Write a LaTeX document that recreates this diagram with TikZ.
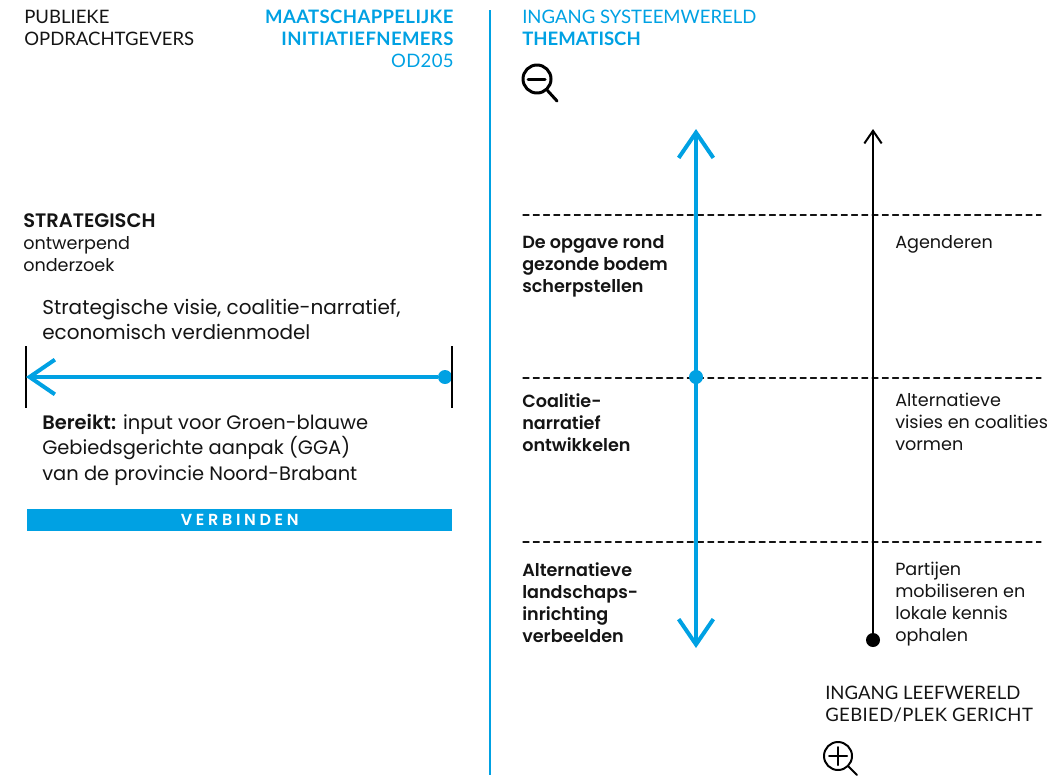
\documentclass[tikz,border=0pt]{standalone}
\usepackage{fontspec}
\setmainfont{Poppins}[BoldFont={Poppins SemiBold}]
\newfontfamily\headfont{Lato}
\newfontfamily\headwide{Lato}[LetterSpace=2]
\usepackage{pgf,tikz}
\usetikzlibrary{arrows.meta}
\definecolor{bluegga}{rgb}{0.,0.63,0.89}
\definecolor{inkgga}{rgb}{0.08,0.08,0.08}
\tikzset{
  txt/.style={anchor=north west,inner sep=0pt,align=left,text=inkgga,font=\fontsize{13.2}{16.5}\selectfont},
  txtbig/.style={anchor=north west,inner sep=0pt,align=left,text=inkgga,font=\fontsize{15}{19}\selectfont},
  txthead/.style={anchor=north west,inner sep=0pt,align=left,text=inkgga,font=\headfont\fontsize{13.9}{16.5}\selectfont},
  txtright/.style={anchor=north east,inner sep=0pt,align=right,font=\headwide\fontsize{13.9}{16.5}\selectfont},
  dashline/.style={inkgga,line width=0.8pt,dash pattern=on 4.5pt off 3.2pt},
  dotnode/.style={circle,inner sep=0pt,minimum size=10.5pt},
  zoomnode/.style={circle,draw=black,inner sep=0pt,minimum size=21pt},
}
\begin{document}
\begin{tikzpicture}[line cap=round,line join=round,x=0.75pt,y=-0.75pt]
\useasboundingbox (0,0) rectangle (1059,775);
% left column
\node[txthead] (pubop) at (24,10) {PUBLIEKE\\OPDRACHTGEVERS};
\node[txtright,text=bluegga] (maatsch) at (454,10) {\textbf{MAATSCHAPPELIJKE}\\\textbf{INITIATIEFNEMERS}\\OD205};
\node[txt] (strat) at (23,213) {{\fontsize{14.6}{16.5}\selectfont\textbf{STRATEGISCH}}\\ontwerpend\\onderzoek};
\node[txtbig] (visie) at (42,299) {Strategische visie, coalitie-narratief,\\economisch verdienmodel};
\node[txtbig,font=\fontsize{14.6}{19}\selectfont] (bereikt) at (42,414) {\textbf{Bereikt:} input voor Groen-blauwe\\Gebiedsgerichte aanpak (GGA)\\van de provincie Noord-Brabant};
\coordinate (bartopl) at (26,346);
\coordinate (barbotl) at (26,408);
\coordinate (bartopr) at (452,346);
\coordinate (barbotr) at (452,408);
\coordinate (tipl) at (26,377);
\node[dotnode,fill=bluegga] (dotr) at (445,377) {};
\draw[line width=1.5pt,line cap=butt] (bartopl) -- (barbotl);
\draw[line width=1.5pt,line cap=butt] (bartopr) -- (barbotr);
\draw[bluegga,line width=3pt,line cap=butt,arrows={-{Straight Barb[length=19pt,width=26pt,line width=3pt]}}] (dotr) -- (tipl);
\node[fill=bluegga,anchor=north west,inner sep=0pt,minimum width=425*0.75pt,minimum height=22*0.75pt,text=white,font=\fontsize{12}{14}\selectfont\bfseries\addfontfeature{LetterSpace=23}] (verbinden) at (27,509) {VERBINDEN};
% divider
\coordinate (divtop) at (490,10);
\coordinate (divbot) at (490,775);
\draw[bluegga,line width=1.5pt,line cap=butt] (divtop) -- (divbot);
% right column
\node[txthead,text=bluegga] (syst) at (522,10) {INGANG SYSTEEMWERELD\\\textbf{THEMATISCH}};
\node[zoomnode,line width=2.25pt] (zoomuit) at (537,79) {};
\coordinate (zoomuitend) at (557,101);
\draw[line width=2.25pt] (zoomuit) -- (zoomuitend);
\draw[line width=2.25pt] (528,79) -- (545,79);
\foreach \y/\name in {215/a,378/b,542/c}{
  \coordinate (dash\name l) at (523,\y);
  \coordinate (dash\name r) at (1041,\y);
  \draw[dashline] (dash\name l) -- (dash\name r);
}
\coordinate (bluetop) at (696,129);
\coordinate (bluebot) at (696,648);
\coordinate (blacktop) at (873,129);
\node[dotnode,fill=black] (dotblack) at (873,640) {};
\node[dotnode,fill=bluegga] (dotblue) at (696,377) {};
\draw[bluegga,line width=3pt,line cap=butt,arrows={{Straight Barb[length=19pt,width=26pt,line width=3pt]}-{Straight Barb[length=19pt,width=26pt,line width=3pt]}}] (bluetop) -- (bluebot);
\draw[line width=1.5pt,line cap=butt,arrows={-{Straight Barb[length=9.5pt,width=13pt,line width=1.5pt]}}] (dotblack) -- (blacktop);
\node[txt] (opgave) at (522,235) {\textbf{De opgave rond}\\\textbf{gezonde bodem}\\\textbf{scherpstellen}};
\node[txt] (coalitie) at (522,393) {\textbf{Coalitie-}\\\textbf{narratief}\\\textbf{ontwikkelen}};
\node[txt] (landschap) at (522,562) {\textbf{Alternatieve}\\\textbf{landschaps-}\\\textbf{inrichting}\\\textbf{verbeelden}};
\node[txt] (agenderen) at (895,235) {Agenderen};
\node[txt] (visies) at (895,393) {Alternatieve\\visies en coalities\\vormen};
\node[txt] (partijen) at (895,562) {Partijen\\mobiliseren en\\lokale kennis\\ophalen};
\node[txthead] (leef) at (825,685.5) {INGANG LEEFWERELD\\{\headwide GEBIED/PLEK GERICHT}};
\node[zoomnode,line width=1.5pt] (zoomin) at (838,756) {};
\coordinate (zoominend) at (857,775);
\draw[line width=1.5pt] (zoomin) -- (zoominend);
\draw[line width=1.5pt] (829,756) -- (847,756);
\draw[line width=1.5pt] (838,747) -- (838,765);
\end{tikzpicture}
\end{document}
